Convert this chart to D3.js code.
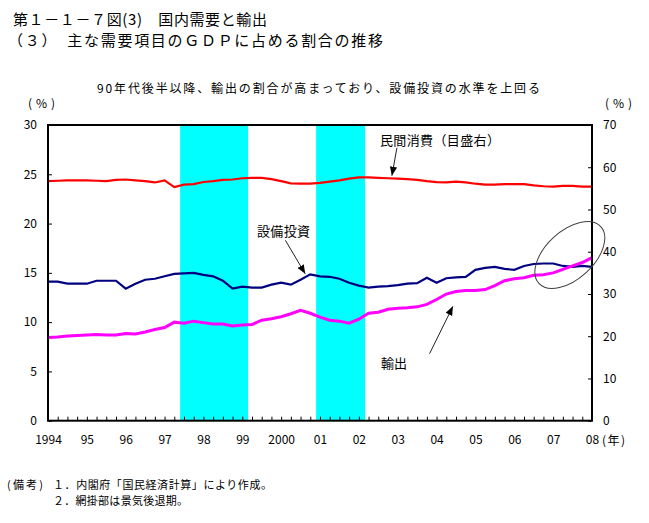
<!DOCTYPE html>
<html><head><meta charset="utf-8">
<script src="https://cdn.jsdelivr.net/npm/d3@7/dist/d3.min.js"></script>
<style>
body{margin:0;background:#fff;}
text{font-family:"Noto Sans CJK JP","Noto Sans",sans-serif;fill:#000;}
</style>
</head><body>
<svg id="chart" width="649" height="523"></svg>
<script>
// ---- data (quarterly, 1994Q1 .. 2008Q1) ----
const startYear = 1994;
const consumption = [56.7,56.8,56.9,56.9,56.9,56.8,56.7,57.0,57.1,56.9,56.7,56.4,56.9,55.3,55.9,56.0,
  56.5,56.7,57.0,57.1,57.4,57.5,57.5,57.2,56.7,56.2,56.1,56.1,56.3,56.6,56.9,57.3,
  57.6,57.6,57.5,57.4,57.3,57.2,57.0,56.7,56.5,56.4,56.6,56.4,56.1,55.9,55.9,56.0,
  56.0,56.0,55.7,55.5,55.4,55.6,55.6,55.4,55.4];
const investment = [14.1,14.1,13.9,13.9,13.9,14.2,14.2,14.2,13.4,13.9,14.3,14.4,14.65,14.9,14.95,15.0,
  14.8,14.65,14.2,13.4,13.6,13.5,13.5,13.8,14.0,13.8,14.3,14.85,14.65,14.6,14.4,14.0,
  13.7,13.5,13.6,13.65,13.75,13.9,13.95,14.5,14.0,14.45,14.55,14.6,15.3,15.5,15.6,15.4,
  15.3,15.7,15.9,15.95,15.95,15.7,15.6,15.7,15.6];
const exportsShare = [8.45,8.5,8.6,8.65,8.7,8.75,8.7,8.7,8.85,8.8,9.0,9.25,9.45,10.0,9.9,10.1,
  9.95,9.8,9.8,9.6,9.7,9.75,10.2,10.35,10.55,10.85,11.2,10.9,10.5,10.2,10.1,9.9,
  10.3,10.9,11.0,11.3,11.4,11.45,11.55,11.8,12.3,12.85,13.1,13.2,13.2,13.3,13.7,14.2,
  14.4,14.5,14.75,14.8,15.0,15.35,15.7,16.05,16.55];
const recessions = [[1997.4, 1999.15], [2000.9, 2002.16]];
const xTickLabels = ["1994","95","96","97","98","99","2000","01","02","03","04","05","06","07","08"];
const leftTicks = [0,5,10,15,20,25,30];
const rightTicks = [0,10,20,30,40,50,60,70];

// ---- layout ----
const svg = d3.select("#chart");
const L = 48, R = 592, T = 125, B = 420.7;
const x = d3.scaleLinear().domain([1994, 2008]).range([L, R]);
const yL = d3.scaleLinear().domain([0, 30]).range([B, T]);
const yR = d3.scaleLinear().domain([0, 70]).range([B, T]);
const xq = i => startYear + i / 4;

function txt(s, px, py, size, len, anchor){
  const t = svg.append("text").attr("x", px).attr("y", py).style("font-size", size + "px").text(s);
  if (len) t.attr("textLength", len).attr("lengthAdjust", "spacing");
  if (anchor) t.attr("text-anchor", anchor);
  return t;
}
txt("第１－１－７図(3)　国内需要と輸出", 13, 25, 15, 254);
txt("（３）　主な需要項目のＧＤＰに占める割合の推移", 8, 46, 15, 375);
txt("90年代後半以降、輸出の割合が高まっており、設備投資の水準を上回る", 97, 93, 12, 443);
txt("(%)", 28, 108, 12, 27);
txt("(%)", 605, 108, 12, 27);

// recession shading
svg.append("g").selectAll("rect").data(recessions).join("rect")
  .attr("x", d => x(d[0])).attr("width", d => x(d[1]) - x(d[0]))
  .attr("y", T).attr("height", B - T).attr("fill", "#00FFFF");

// lines
const lineL = d3.line().x((d, i) => x(xq(i))).y(d => yL(d));
const lineR = d3.line().x((d, i) => x(xq(i))).y(d => yR(d));
svg.append("path").datum(consumption).attr("d", lineR).attr("fill", "none")
  .attr("stroke", "#FF0000").attr("stroke-width", 2.2);
svg.append("path").datum(investment).attr("d", lineL).attr("fill", "none")
  .attr("stroke", "#000080").attr("stroke-width", 2.2);
svg.append("path").datum(exportsShare).attr("d", lineL).attr("fill", "none")
  .attr("stroke", "#FF00FF").attr("stroke-width", 3);

// axes
const axL = d3.axisLeft(yL).tickValues(leftTicks).tickSize(-4).tickPadding(11);
const axR = d3.axisRight(yR).tickValues(rightTicks).tickSize(-4).tickPadding(11);
const quarters = d3.range(57).map(xq);
const axB = d3.axisBottom(x).tickValues(quarters).tickSize(-4).tickPadding(15)
  .tickFormat(d => Number.isInteger(d) ? xTickLabels[d - 1994] : "");
function styleAxis(g){
  g.select(".domain").remove();
  g.selectAll("line").attr("stroke", "#000").attr("stroke-width", 1);
  g.selectAll("text").style("font-size", "12px").attr("font-family", null);
}
svg.append("g").attr("transform", `translate(${L},0)`).call(axL).call(styleAxis);
svg.append("g").attr("transform", `translate(${R},0)`).call(axR).call(styleAxis);
svg.append("g").attr("transform", `translate(0,${B})`).call(axB).call(styleAxis);
txt("(年)", 602, 445, 12, 23);

// frame
svg.append("rect").attr("x", L).attr("y", T).attr("width", R - L).attr("height", B - T)
  .attr("fill", "none").attr("stroke", "#000").attr("stroke-width", 2);

// annotations
const defs = svg.append("defs");
defs.append("marker").attr("id", "ah").attr("viewBox", "0 0 10 10").attr("refX", 10).attr("refY", 5)
  .attr("markerWidth", 9).attr("markerHeight", 9).attr("markerUnits", "userSpaceOnUse")
  .attr("orient", "auto").append("path").attr("d", "M0,1 L10,5 L0,9 Z").attr("fill", "#000");
function arrow(x1, y1, x2, y2){
  svg.append("line").attr("x1", x1).attr("y1", y1).attr("x2", x2).attr("y2", y2)
    .attr("stroke", "#222").attr("stroke-width", 1).attr("marker-end", "url(#ah)");
}
txt("民間消費（目盛右）", 380, 145, 13, 120);
arrow(x(2002.98), yR(64.6), x(2002.85), yR(58.0));
txt("設備投資", 257, 236, 13, 53);
arrow(x(2000.11), yL(18.3), x(2000.62), yL(14.9));
txt("輸出", 381, 368, 13, 26);
arrow(x(2003.82), yL(6.8), x(2004.42), yL(11.6));

svg.append("ellipse")
  .attr("transform", `translate(${x(2007.43)},${yL(16.81)}) rotate(-42.6)`)
  .attr("rx", 42).attr("ry", 24).attr("fill", "none").attr("stroke", "#404040").attr("stroke-width", 1);

// notes
txt("(備考)", 7, 489, 11, 36);
txt("１．内閣府「国民経済計算」により作成。", 53, 489, 11, 219);
txt("２．網掛部は景気後退期。", 53, 505, 11, 135);
</script>
</body></html>
